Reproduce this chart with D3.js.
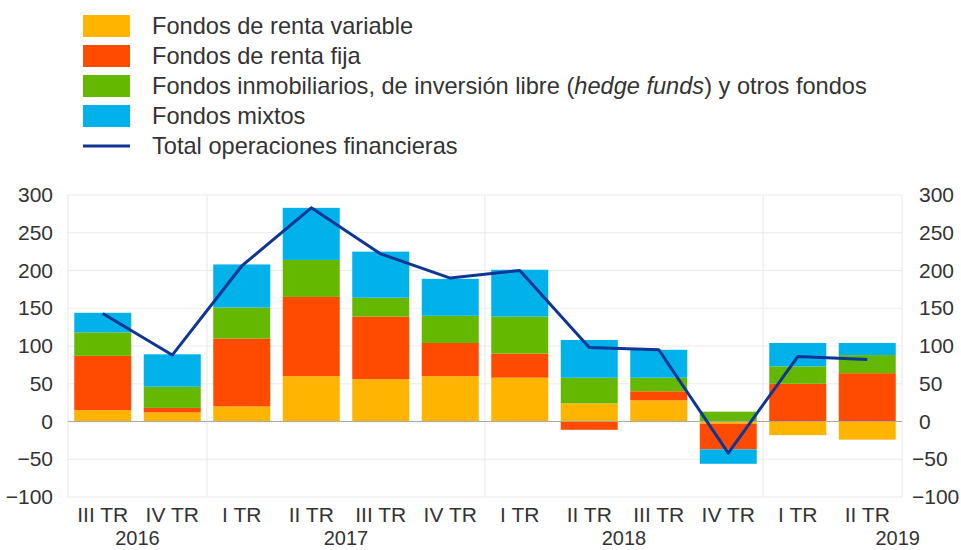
<!DOCTYPE html>
<html><head><meta charset="utf-8">
<script src="https://cdn.jsdelivr.net/npm/d3@7"></script>
<style>
html,body{margin:0;padding:0;background:#fff;}
svg{display:block;font-family:"Liberation Sans",Arial,sans-serif;}
</style></head>
<body><svg id="chart" width="961" height="550"></svg>
<script>
const quarters = ["III TR","IV TR","I TR","II TR","III TR","IV TR","I TR","II TR","III TR","IV TR","I TR","II TR"];
const years = [
  {label:"2016", from:0, to:1},
  {label:"2017", from:2, to:5},
  {label:"2018", from:6, to:9},
  {label:"2019", from:10, to:11}
];
const rentaVariable = [15, 12, 20, 60, 56, 60, 58, 24, 28, -3, -18, -24];
const rentaFija     = [72, 6, 90, 105, 83, 44, 32, -11, 12, -34, 50, 64];
const inmobiliarios = [31, 28, 41, 49, 25, 36, 49, 34, 18, 13, 23, 24];
const mixtos        = [26, 43, 57, 69, 61, 49, 62, 50, 37, -19, 31, 16];
const total         = [143, 88, 206, 283, 222, 190, 200, 98, 95, -42, 86, 82];
const yTicks = [-100, -50, 0, 50, 100, 150, 200, 250, 300];
const seriesNames = ["Fondos de renta variable","Fondos de renta fija","Fondos inmobiliarios","Fondos mixtos"];
const lineName = "Total operaciones financieras";
const colors = ["#FFB400","#FF4B00","#65B800","#00B1EA"];
const lineColor = "#0F3595";
const textColor = "#333333";

const svg = d3.select("#chart");
const X0 = 68, X1 = 902, Y0 = 195, Y1 = 497;

const idx = quarters.map((q,i)=>i);
const x = d3.scaleBand().domain(idx).range([X0, X1]).paddingInner(0.18).paddingOuter(0.09);
const xFull = d3.scaleBand().domain(idx).range([X0, X1]);
const y = d3.scaleLinear().domain([-100, 300]).range([Y1, Y0]);

// grid
const g = svg.append("g");
g.selectAll(".hg").data(yTicks.filter(t=>t!==0)).join("line")
  .attr("x1", X0).attr("x2", X1).attr("y1", d=>y(d)).attr("y2", d=>y(d))
  .attr("stroke", "#ebebeb").attr("stroke-width", 1.2);
const vLines = [X0, ...years.slice(1).map(yr=>xFull(yr.from)), X1];
g.selectAll(".vg").data(vLines).join("line")
  .attr("x1", d=>d).attr("x2", d=>d).attr("y1", Y0).attr("y2", Y1)
  .attr("stroke", "#ebebeb").attr("stroke-width", 1.2);

// stacked bars
const table = idx.map(i=>({i, s0:rentaVariable[i], s1:rentaFija[i], s2:inmobiliarios[i], s3:mixtos[i]}));
const stack = d3.stack().keys(["s0","s1","s2","s3"]).offset(d3.stackOffsetDiverging);
const layers = stack(table);
svg.append("g").selectAll("g").data(layers).join("g")
  .attr("fill", (d,k)=>colors[k])
  .selectAll("rect").data(d=>d).join("rect")
  .attr("x", d=>x(d.data.i)).attr("width", x.bandwidth())
  .attr("y", d=>y(Math.max(d[0],d[1])))
  .attr("height", d=>Math.abs(y(d[0])-y(d[1])));

// zero line
svg.append("line").attr("x1", X0).attr("x2", X1).attr("y1", y(0)).attr("y2", y(0))
  .attr("stroke", "#a8a8a8").attr("stroke-width", 1.2);

// total line
svg.append("path").datum(total)
  .attr("fill","none").attr("stroke", lineColor).attr("stroke-width", 3)
  .attr("stroke-linejoin","round")
  .attr("d", d3.line().x((d,i)=>xFull(i)+xFull.bandwidth()/2).y(d=>y(d)));

// axes
const fmt = d3.format("d");
const la = svg.append("g").attr("transform", `translate(${X0},0)`)
  .call(d3.axisLeft(y).tickValues(yTicks).tickSize(0).tickPadding(15).tickFormat(fmt));
la.select(".domain").remove();
la.selectAll("text").attr("font-size", 21).attr("fill", textColor)
  .attr("font-family", '"Liberation Sans",Arial,sans-serif');

const ra = svg.append("g").attr("transform", `translate(${X1},0)`)
  .call(d3.axisRight(y).tickValues(yTicks).tickSize(0).tickPadding(17).tickFormat(fmt));
ra.select(".domain").remove();
ra.selectAll("text").attr("font-size", 21).attr("fill", textColor)
  .attr("font-family", '"Liberation Sans",Arial,sans-serif')
  .attr("dx", d=> d<0 ? -7 : 0);

// x labels
svg.append("g").selectAll("text").data(idx).join("text")
  .attr("x", i=>xFull(i)+xFull.bandwidth()/2).attr("y", 522)
  .attr("text-anchor","middle").attr("font-size", 21).attr("fill", textColor)
  .text(i=>quarters[i]);
svg.append("g").selectAll("text").data(years).join("text")
  .attr("x", (d,k)=> k===years.length-1 ? X1+18 : (xFull(d.from)+xFull(d.to)+xFull.bandwidth())/2)
  .attr("y", 545)
  .attr("text-anchor", (d,k)=> k===years.length-1 ? "end" : "middle")
  .attr("font-size", 20).attr("fill", textColor)
  .text(d=>d.label);

// legend
const leg = svg.append("g");
const rowY = [26, 56, 86, 116, 146];
seriesNames.forEach((name,k)=>{
  leg.append("rect").attr("x",83).attr("y",rowY[k]-11).attr("width",47).attr("height",22).attr("fill",colors[k]);
});
leg.append("line").attr("x1",83).attr("x2",130).attr("y1",rowY[4]).attr("y2",rowY[4])
  .attr("stroke",lineColor).attr("stroke-width",3);
const lt = leg.selectAll("text").data([0,1,2,3,4]).join("text")
  .attr("x",152).attr("y",k=>rowY[k]+8).attr("font-size",23.6).attr("fill",textColor);
lt.each(function(k){
  const t = d3.select(this);
  if (k===2){
    t.append("tspan").text("Fondos inmobiliarios, de inversión libre (");
    t.append("tspan").attr("font-style","italic").text("hedge funds");
    t.append("tspan").text(") y otros fondos");
  } else if (k===4){
    t.text(lineName);
  } else {
    t.text(seriesNames[k]);
  }
});
</script></body></html>
